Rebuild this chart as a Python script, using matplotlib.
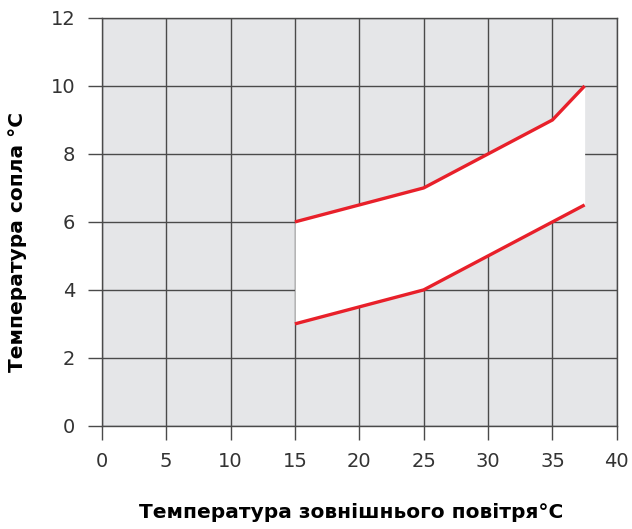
import matplotlib
matplotlib.use("Agg")
import matplotlib.pyplot as plt

# Дані з графіка
outdoor_temp = [15, 20, 25, 30, 35, 37.5]
upper_nozzle = [6, 6.5, 7, 8, 9, 10]
lower_nozzle = [3, 3.5, 4, 5, 6, 6.5]

x_ticks = [0, 5, 10, 15, 20, 25, 30, 35, 40]
y_ticks = [0, 2, 4, 6, 8, 10, 12]

grid_color = "#4a4a4a"
red = "#e8202a"

fig = plt.figure(figsize=(6.32, 5.29), dpi=100)
ax = fig.add_axes([0.161, 0.195, 0.815, 0.771])
ax.set_facecolor("#e5e6e8")

ax.set_xlim(0, 40)
ax.set_ylim(0, 12)
ax.set_xticks(x_ticks)
ax.set_yticks(y_ticks)

ax.grid(True, color=grid_color, linewidth=1.0)
ax.set_axisbelow(True)
for side in ["top", "right", "left", "bottom"]:
    ax.spines[side].set_color(grid_color)
    ax.spines[side].set_linewidth(1.0)

ax.tick_params(axis="both", length=10, width=1.0, color=grid_color,
               labelsize=14, labelcolor="#333333", pad=9)

# біла смуга між кривими
ax.fill_between(outdoor_temp, lower_nozzle, upper_nozzle, color="white",
                linewidth=0, zorder=2)
ax.plot(outdoor_temp, upper_nozzle, color=red, lw=2.4, zorder=3,
        solid_capstyle="butt", solid_joinstyle="round")
ax.plot(outdoor_temp, lower_nozzle, color=red, lw=2.4, zorder=3,
        solid_capstyle="butt", solid_joinstyle="round")

ax.set_xlabel("Температура зовнішнього повітря°C", fontsize=14.5,
              fontweight="bold")
ax.set_ylabel("Температура сопла °C", fontsize=14.5, fontweight="bold")
ax.xaxis.set_label_coords(0.485, -0.19)
ax.yaxis.set_label_coords(-0.145, 0.45)

fig.savefig("out.png", dpi=100)
